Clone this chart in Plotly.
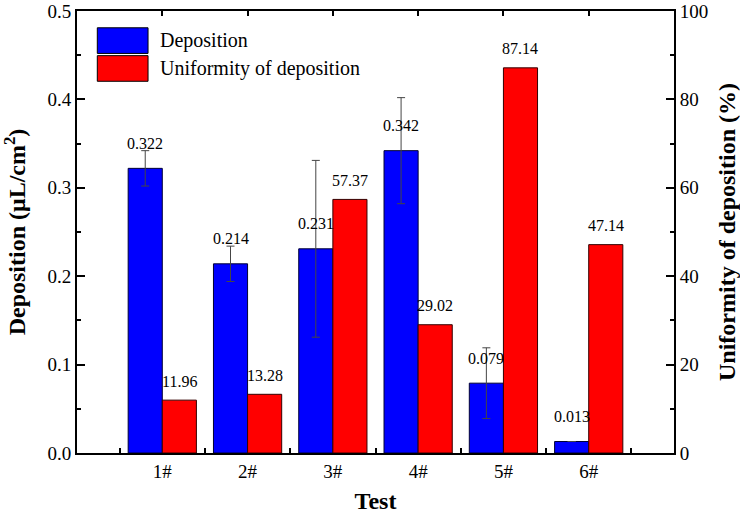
import plotly.graph_objects as go

tests = ["1#", "2#", "3#", "4#", "5#", "6#"]
deposition = [0.322, 0.214, 0.231, 0.342, 0.079, 0.013]
deposition_err = [0.020, 0.020, 0.100, 0.060, 0.040, 0.0]
uniformity = [11.96, 13.28, 57.37, 29.02, 87.14, 47.14]
left_ticks = [0.0, 0.1, 0.2, 0.3, 0.4, 0.5]
right_ticks = [0, 20, 40, 60, 80, 100]

xpos = list(range(1, len(tests) + 1))
FONT = "Liberation Serif, Times New Roman, serif"

fig = go.Figure()
fig.add_trace(go.Bar(
    x=xpos, y=deposition, name="Deposition",
    width=0.4, offset=-0.4,
    marker=dict(color="#0000FF", line=dict(color="#000033", width=1)),
    error_y=dict(type="data", array=deposition_err, visible=True,
                 color="#454545", thickness=1, width=4),
    yaxis="y", showlegend=False,
))
fig.add_trace(go.Bar(
    x=xpos, y=uniformity, name="Uniformity of deposition",
    width=0.4, offset=0.0,
    marker=dict(color="#FF0000", line=dict(color="#330000", width=1)),
    yaxis="y2", showlegend=False,
))
# invisible trace to activate top axis
fig.add_trace(go.Scatter(x=[xpos[0]], y=[0], xaxis="x2", yaxis="y",
                         mode="markers", marker=dict(opacity=0),
                         hoverinfo="skip", showlegend=False))

annotations = []
for xv, v in zip(xpos, deposition):
    annotations.append(dict(x=xv - 0.2, y=v, xref="x", yref="y",
                            text=f"{v:.3f}", showarrow=False,
                            yanchor="middle", yshift=25,
                            font=dict(family=FONT, size=16, color="black")))
for xv, v in zip(xpos, uniformity):
    annotations.append(dict(x=xv + 0.2, y=v, xref="x", yref="y2",
                            text=f"{v:.2f}", showarrow=False,
                            yanchor="middle", yshift=19,
                            font=dict(family=FONT, size=16, color="black")))

# custom legend
legend_items = [("Deposition", "#0000FF"), ("Uniformity of deposition", "#FF0000")]
shapes = []
box_tops = [0.962, 0.899]
box_h = 0.058
for (label, col), top in zip(legend_items, box_tops):
    shapes.append(dict(type="rect", xref="paper", yref="paper",
                       x0=0.034, x1=0.119, y0=top - box_h, y1=top,
                       fillcolor=col, line=dict(color="#000000", width=1)))
    annotations.append(dict(x=0.136, y=top - box_h / 2, xref="paper", yref="paper",
                            text=label, showarrow=False, xanchor="left",
                            yanchor="middle",
                            font=dict(family=FONT, size=20, color="black")))

axis_common = dict(showline=True, linecolor="black", linewidth=2,
                   showgrid=False, zeroline=False, automargin=False,
                   ticklabeloverflow="allow",
                   tickfont=dict(family=FONT, size=19, color="black"))

fig.update_layout(
    template="none",
    width=740, height=514,
    margin=dict(l=77, r=66, t=11, b=61, autoexpand=False),
    plot_bgcolor="white", paper_bgcolor="white",
    font=dict(family=FONT, color="black"),
    barmode="overlay",
    xaxis=dict(**axis_common, range=[0, 7], tickmode="array",
               tickvals=xpos, ticktext=tests, ticks="inside", ticklen=0,
               minor=dict(ticks="inside", tickmode="array",
                          tickvals=[x + 0.5 for x in [0] + xpos],
                          ticklen=5, tickwidth=1.5, tickcolor="black"),
               title=dict(text="<b>Test</b>", font=dict(family=FONT, size=24),
                          standoff=11)),
    xaxis2=dict(showline=True, linecolor="black", linewidth=2, showgrid=False,
                zeroline=False, overlaying="x", side="top", range=[0, 7],
                automargin=False,
                tickmode="array", tickvals=xpos, ticks="inside", ticklen=5,
                tickwidth=1.5, tickcolor="black", showticklabels=False),
    yaxis=dict(**axis_common, range=[0, 0.5], tickmode="array",
               tickvals=left_ticks, ticktext=[f"{t:.1f}" for t in left_ticks],
               ticks="inside", ticklen=8, tickwidth=1.5, tickcolor="black",
               minor=dict(ticks="inside", dtick=0.05, ticklen=4,
                          tickwidth=1.5, tickcolor="black"),
               title=dict(text="<b>Deposition (μL/cm<sup>2</sup>)</b>",
                          font=dict(family=FONT, size=24), standoff=15)),
    yaxis2=dict(**axis_common, range=[0, 100], tickmode="array",
                tickvals=right_ticks, ticktext=[str(t) for t in right_ticks],
                overlaying="y", side="right", ticks="inside", ticklen=8,
                tickwidth=1.5, tickcolor="black",
                minor=dict(ticks="inside", dtick=10, ticklen=4,
                           tickwidth=1.5, tickcolor="black"),
                title=dict(text="<b>Uniformity of deposition (%)</b>",
                           font=dict(family=FONT, size=24), standoff=18)),
    annotations=annotations,
    shapes=shapes,
)

fig.write_html("out.html",
               config={"displayModeBar": False},
               post_script="document.body.style.margin='0';"
                           "document.body.style.overflow='hidden';")
